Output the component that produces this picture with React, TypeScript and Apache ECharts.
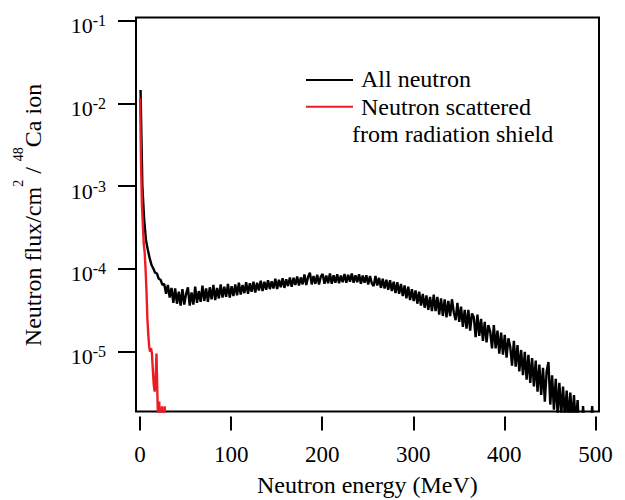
import { useEffect, useRef } from 'react';
import * as echarts from 'echarts';

// Flux values are given in units of 1e-5 neutrons/cm^2 per 48Ca ion
const FLUX_UNIT = 1e-5;

// "All neutron": 2 MeV bins starting at 0.5 MeV
const allNeutronFirstBinMeV = 0.5;
const allNeutronBinWidthMeV = 2;
const allNeutronFlux: (number | null)[] = [
  1450, 100, 39, 22, 17, 13.5, 11.2, 10.1, 9.0, 8.8,
  7.6, 7.4, 6.4, 6.6, 5.0, 6.4, 4.5, 5.9, 3.9, 5.8,
  3.8, 5.3, 3.6, 5.7, 3.7, 5.0, 6.0, 3.6, 5.2, 3.7,
  6.1, 3.9, 5.4, 4.0, 6.3, 4.1, 5.8, 4.0, 6.0, 4.3,
  6.4, 4.2, 5.9, 4.4, 6.5, 4.5, 6.1, 4.6, 6.6, 4.5,
  6.2, 4.7, 6.5, 4.8, 6.8, 4.9, 6.4, 5.1, 6.9, 5.0,
  6.7, 5.3, 7.0, 5.2, 6.8, 5.5, 7.2, 5.4, 7.0, 5.6,
  7.3, 5.7, 7.1, 5.8, 7.6, 5.7, 7.4, 6.0, 7.7, 5.9,
  7.5, 6.2, 7.9, 6.1, 7.8, 6.4, 8.1, 6.3, 7.9, 6.5,
  8.6, 6.4, 8.0, 9.0, 6.5, 8.2, 6.6, 8.5, 6.5, 8.1,
  8.7, 6.6, 8.3, 6.7, 8.8, 6.6, 8.4, 6.8, 8.6, 6.7,
  8.3, 6.9, 8.7, 6.8, 8.5, 7.0, 8.8, 6.8, 8.4, 6.9,
  8.6, 6.6, 8.3, 6.8, 8.4, 6.5, 8.2, 6.7, 6.2, 8.2,
  6.3, 7.8, 5.9, 7.6, 5.8, 7.4, 5.6, 7.3, 5.4, 7.0,
  5.1, 6.9, 5.0, 6.6, 4.7, 6.3, 4.4, 6.1, 4.2, 5.7,
  4.1, 5.5, 3.8, 5.3, 3.6, 5.0, 3.4, 4.8, 3.2, 4.6,
  3.1, 4.9, 3.1, 4.6, 2.8, 4.4, 2.7, 4.3, 2.6, 4.1,
  2.7, 4.3, 3.0, 2.4, 3.9, 2.3, 3.5, 2.0, 3.2, 1.9,
  3.2, 1.8, 2.9, 2.6, 1.5, 2.8, 1.55, 2.5, 1.35, 2.3,
  1.3, 2.1, 1.75, 1.1, 2.1, 1.1, 1.8, 0.95, 1.7, 0.92,
  1.6, 0.85, 1.45, 1.15, 0.68, 1.35, 0.66, 1.2, 0.58, 1.05,
  0.52, 1.0, 0.46, 0.92, 0.42, 0.84, 0.38, 0.78, 0.33, 0.7,
  0.3, 0.64, 0.25, 0.58, 0.75, 0.23, 0.52, 0.2, 0.47, 0.18,
  0.42, 0.17, 0.38, 0.16, 0.34, 0.15, 0.32, 0.14, 0.3, 0.13,
  0.26, 0.1, 0.1, 0.22, 0.1, null, null, 0.1, 0.22, 0.1,
];

// "Neutron scattered from radiation shield": 1 MeV bins starting at 0 MeV
const shieldFirstBinMeV = 0;
const shieldBinWidthMeV = 1;
const shieldScatteredFlux: (number | null)[] = [
  1150, 200, 60, 35, 20, 16, 10, 5.5, 2.5, 1.6,
  1.15, 1.0, 1.1, 0.95, 0.6, 0.4, 0.33, 0.45, 0.95, 0.3,
  0.12, 0.25, 0.1, 0.1, 0.22, 0.1, 0.1, 0.22, 0.1,
];

const seriesNames = ['All neutron', 'Neutron scattered', 'from radiation shield'];
const xAxisTitle = 'Neutron energy (MeV)';

const FONT = '"Liberation Serif", "Times New Roman", serif';
const BLACK = '#000000';
const RED = '#ED1C24';

function toPairs(values: (number | null)[], first: number, width: number) {
  return values.map((v, i) => [first + i * width, v == null ? null : v * FLUX_UNIT]);
}

export default function App() {
  const ref = useRef<HTMLDivElement>(null);
  useEffect(() => {
    if (!ref.current) return;
    const chart = echarts.init(ref.current, undefined, { renderer: 'svg' });
    const option: any = {
      animation: false,
      textStyle: { fontFamily: FONT, color: BLACK },
      grid: [
        { left: 136, top: 17.5, width: 463, height: 394, show: true, borderColor: BLACK, borderWidth: 2, backgroundColor: 'transparent' },
        { left: 136, top: 20.5, width: 463, height: 331.2, show: false },
        { left: 140.1, top: 400, width: 455.3, height: 16.5, show: false },
      ],
      xAxis: [
        { gridIndex: 0, type: 'value', min: -4.5, max: 504, show: false },
        { gridIndex: 1, type: 'value', min: 0, max: 1, show: false },
        {
          gridIndex: 2, type: 'value', min: 0, max: 500, interval: 100, position: 'bottom',
          axisLine: { show: false },
          axisTick: { show: true, length: 14, lineStyle: { color: BLACK, width: 2 } },
          axisLabel: { fontSize: 23, color: BLACK, fontFamily: FONT, margin: 26 },
          splitLine: { show: false },
        },
      ],
      yAxis: [
        { gridIndex: 0, type: 'log', logBase: 10, min: 1.897e-6, max: 0.1087, show: false },
        {
          gridIndex: 1, type: 'log', logBase: 10, min: 1e-5, max: 1e-1, position: 'left',
          axisLine: { show: false },
          axisTick: { show: true, length: 18, lineStyle: { color: BLACK, width: 2 } },
          splitLine: { show: false },
          axisLabel: {
            margin: 30,
            padding: [10, 0, 0, 0],
            formatter: (value: number) => {
              const e = Math.round(Math.log10(value));
              return `{b|10}{s|${e}}`;
            },
            rich: {
              b: { fontSize: 22, lineHeight: 26, fontFamily: FONT, color: BLACK },
              s: { fontSize: 16, lineHeight: 16, verticalAlign: 'top', fontFamily: FONT, color: BLACK },
            },
          },
        },
        { gridIndex: 2, type: 'value', show: false },
      ],
      series: [
        {
          type: 'line', name: 'All neutron', xAxisIndex: 0, yAxisIndex: 0,
          data: toPairs(allNeutronFlux, allNeutronFirstBinMeV, allNeutronBinWidthMeV),
          showSymbol: false, symbol: 'none', clip: true, connectNulls: false, silent: true,
          lineStyle: { color: BLACK, width: 2.4 }, itemStyle: { color: BLACK },
        },
        {
          type: 'line', name: 'Neutron scattered from radiation shield', xAxisIndex: 0, yAxisIndex: 0,
          data: toPairs(shieldScatteredFlux, shieldFirstBinMeV, shieldBinWidthMeV),
          showSymbol: false, symbol: 'none', clip: true, connectNulls: false, silent: true,
          lineStyle: { color: RED, width: 2.4 }, itemStyle: { color: RED },
        },
      ],
      graphic: [
        { type: 'line', shape: { x1: 306, y1: 80, x2: 353, y2: 80 }, style: { stroke: BLACK, lineWidth: 2 }, silent: true },
        { type: 'line', shape: { x1: 306, y1: 106.7, x2: 353, y2: 106.7 }, style: { stroke: RED, lineWidth: 2 }, silent: true },
        { type: 'text', x: 361, y: 79.2, style: { text: seriesNames[0], fontSize: 24, fontFamily: FONT, fill: BLACK, align: 'left', verticalAlign: 'middle' } },
        { type: 'text', x: 361, y: 107, style: { text: seriesNames[1], fontSize: 24, fontFamily: FONT, fill: BLACK, align: 'left', verticalAlign: 'middle' } },
        { type: 'text', x: 352, y: 134, style: { text: seriesNames[2], fontSize: 24, fontFamily: FONT, fill: BLACK, align: 'left', verticalAlign: 'middle' } },
        { type: 'text', x: 367.4, y: 485, style: { text: xAxisTitle, fontSize: 24, fontFamily: FONT, fill: BLACK, align: 'center', verticalAlign: 'middle' } },
        {
          type: 'text', x: 32.5, y: 215, rotation: Math.PI / 2,
          style: {
            text: '{m|Neutron flux/cm}{s|2}{m| / }{s|48}{m|Ca ion}',
            align: 'center', verticalAlign: 'middle', fontFamily: FONT, fontSize: 24, fill: BLACK,
            rich: {
              m: { fontSize: 24, lineHeight: 42, fontFamily: FONT, fill: BLACK },
              s: { fontSize: 14, lineHeight: 14, verticalAlign: 'top', fontFamily: FONT, fill: BLACK },
            },
          },
        },
      ],
    };
    chart.setOption(option);
    return () => chart.dispose();
  }, []);
  return <div ref={ref} style={{ position: 'absolute', left: 0, top: 0, width: 625, height: 500 }} />;
}
